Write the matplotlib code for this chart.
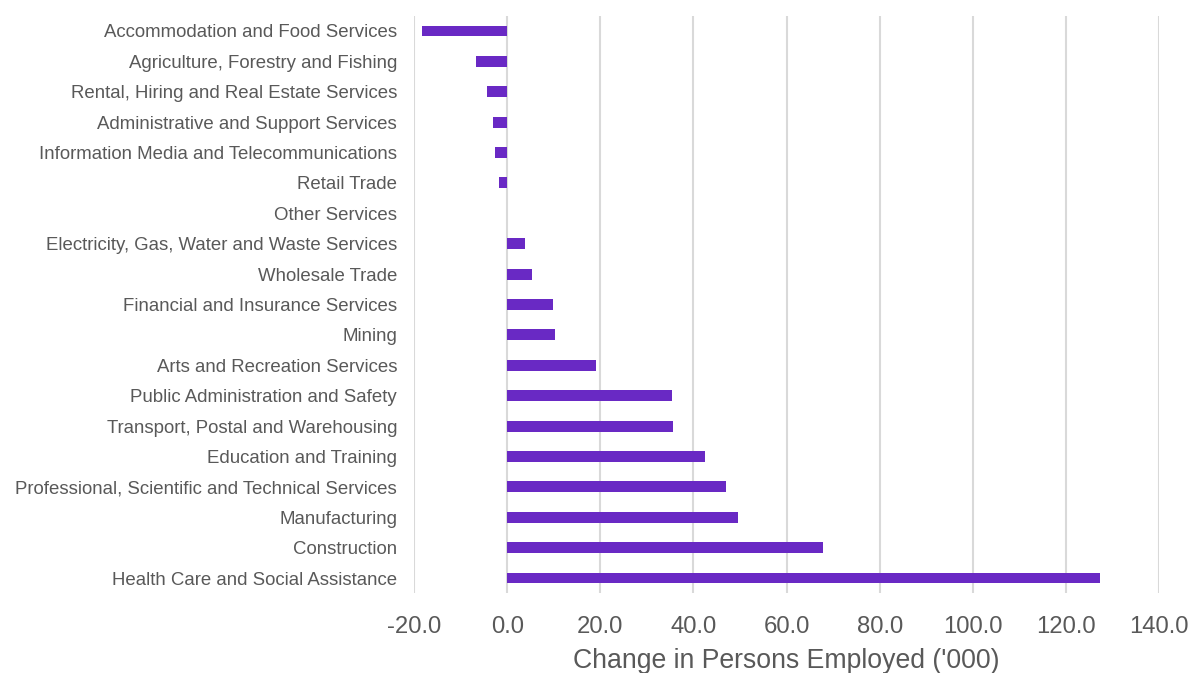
import matplotlib
matplotlib.use("Agg")
import matplotlib.pyplot as plt
from matplotlib.ticker import FuncFormatter

industries = [
    "Accommodation and Food Services",
    "Agriculture, Forestry and Fishing",
    "Rental, Hiring and Real Estate Services",
    "Administrative and Support Services",
    "Information Media and Telecommunications",
    "Retail Trade",
    "Other Services",
    "Electricity, Gas, Water and Waste Services",
    "Wholesale Trade",
    "Financial and Insurance Services",
    "Mining",
    "Arts and Recreation Services",
    "Public Administration and Safety",
    "Transport, Postal and Warehousing",
    "Education and Training",
    "Professional, Scientific and Technical Services",
    "Manufacturing",
    "Construction",
    "Health Care and Social Assistance",
]
change = [-18.2, -6.6, -4.3, -3.0, -2.7, -1.8, 0.0, 3.9, 5.4, 9.8, 10.3,
          19.0, 35.4, 35.6, 42.4, 47.0, 49.5, 67.8, 127.4]
x_ticks = [-20, 0, 20, 40, 60, 80, 100, 120, 140]

plt.rcParams["font.family"] = ["Liberation Sans", "DejaVu Sans"]

fig = plt.figure(figsize=(11.9, 6.73), dpi=100)
ax = fig.add_axes([414 / 1190, 1 - 593.2 / 673, 745 / 1190, (593.2 - 15.8) / 673])

ypos = list(range(len(industries)))
ax.barh(ypos, change, height=0.36, color="#6929c4", linewidth=0, zorder=3)

ax.set_xlim(x_ticks[0], x_ticks[-1])
ax.set_ylim(len(industries) - 0.5, -0.5)
ax.set_xticks(x_ticks)
ax.xaxis.set_major_formatter(FuncFormatter(lambda v, p: f"{v:.1f}"))
ax.set_yticks(ypos)
ax.set_yticklabels(industries)

ax.grid(axis="x", color="#d9d9d9", linewidth=1.5, zorder=0)
for s in ax.spines.values():
    s.set_visible(False)
ax.tick_params(axis="y", length=0, pad=12.2, labelsize=13.4, labelcolor="#595959")
ax.tick_params(axis="x", length=0, pad=16.5, labelsize=17.2, labelcolor="#595959")
ax.set_xlabel("Change in Persons Employed ('000)", fontsize=19.2,
              color="#595959", labelpad=7)

fig.savefig("out.png", dpi=100)
